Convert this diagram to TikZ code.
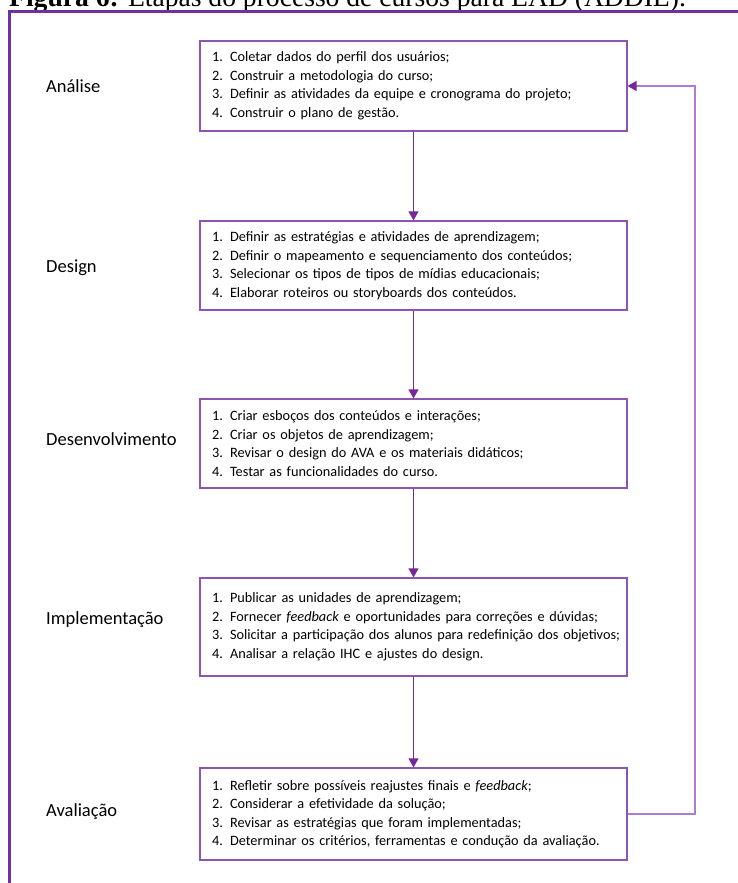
\documentclass[tikz,border=0pt]{standalone}
\usepackage{fontspec}
\setmainfont{Liberation Serif}
\newfontfamily\boxfont{Carlito}
\usetikzlibrary{arrows.meta}
\definecolor{framec}{RGB}{112,48,160}
\definecolor{boxc}{RGB}{140,85,175}
\definecolor{arrc}{RGB}{118,40,150}
\definecolor{fbc}{RGB}{175,125,205}
\begin{document}
\begin{tikzpicture}[x=1pt,y=-1pt,
  stepbox/.style={draw=boxc, line width=1.2pt, minimum width=427pt, text width=403pt,
    inner xsep=12pt, inner ysep=0pt, align=left,
    font=\boxfont\fontsize{14.3}{18.5}\selectfont},
  phase/.style={anchor=west, inner sep=0pt, font=\boxfont\fontsize{18.5}{20}\selectfont},
  flow/.style={draw=arrc, line width=1.2pt, -{Triangle[length=9pt,width=10pt]}},
  fback/.style={draw=fbc, line width=1.4pt, -{Triangle[length=9pt,width=10pt,color=arrc]}},
  ]
\useasboundingbox (0,0) rectangle (737,883);
\node[anchor=base west, inner sep=0pt, font=\fontsize{27.6}{29}\selectfont] (cap) at (9,7)
  {\textbf{Figura 6:} Etapas do processo de cursos para EAD (ADDIE).};
\draw[framec, line width=3pt] (9,900) -- (9,11.5) -- (760,11.5);

\node[stepbox, minimum height=90pt] (b1) at (413.5,86) {1. Coletar dados do perfil dos usuários;\\
2. Construir a metodologia do curso;\\
3. Definir as atividades da equipe e cronograma do projeto;\\
4. Construir o plano de gestão.};
\node[stepbox, minimum height=89pt] (b2) at (413.5,265.5) {1. Definir as estratégias e atividades de aprendizagem;\\
2. Definir o mapeamento e sequenciamento dos conteúdos;\\
3. Selecionar os tipos de tipos de mídias educacionais;\\
4. Elaborar roteiros ou storyboards dos conteúdos.};
\node[stepbox, minimum height=89pt] (b3) at (413.5,443.5) {1. Criar esboços dos conteúdos e interações;\\
2. Criar os objetos de aprendizagem;\\
3. Revisar o design do AVA e os materiais didáticos;\\
4. Testar as funcionalidades do curso.};
\node[stepbox, minimum height=98pt] (b4) at (413.5,627) {1. Publicar as unidades de aprendizagem;\\
2. Fornecer \textit{feedback} e oportunidades para correções e dúvidas;\\
\mbox{3. Solicitar a participação dos alunos para redefinição dos objetivos;}\\
4. Analisar a relação IHC e ajustes do design.};
\node[stepbox, minimum height=92pt] (b5) at (413.5,814) {1. Refletir sobre possíveis reajustes finais e \textit{feedback};\\
2. Considerar a efetividade da solução;\\
3. Revisar as estratégias que foram implementadas;\\
4. Determinar os critérios, ferramentas e condução da avaliação.};

\node[phase] (l1) at (46,86) {Análise};
\node[phase] (l2) at (46,268) {Design};
\node[phase] (l3) at (46,439) {Desenvolvimento};
\node[phase] (l4) at (46,620) {Implementação};
\node[phase] (l5) at (46,812) {Avaliação};

\draw[flow] (b1) -- (b2);
\draw[flow] (b2) -- (b3);
\draw[flow] (b3) -- (b4);
\draw[flow] (b4) -- (b5);
\coordinate (fbx) at (695,0);
\draw[fback] (b5.east) -- (b5.east -| fbx) -- (b1.east -| fbx) -- (b1.east);
\end{tikzpicture}
\end{document}
